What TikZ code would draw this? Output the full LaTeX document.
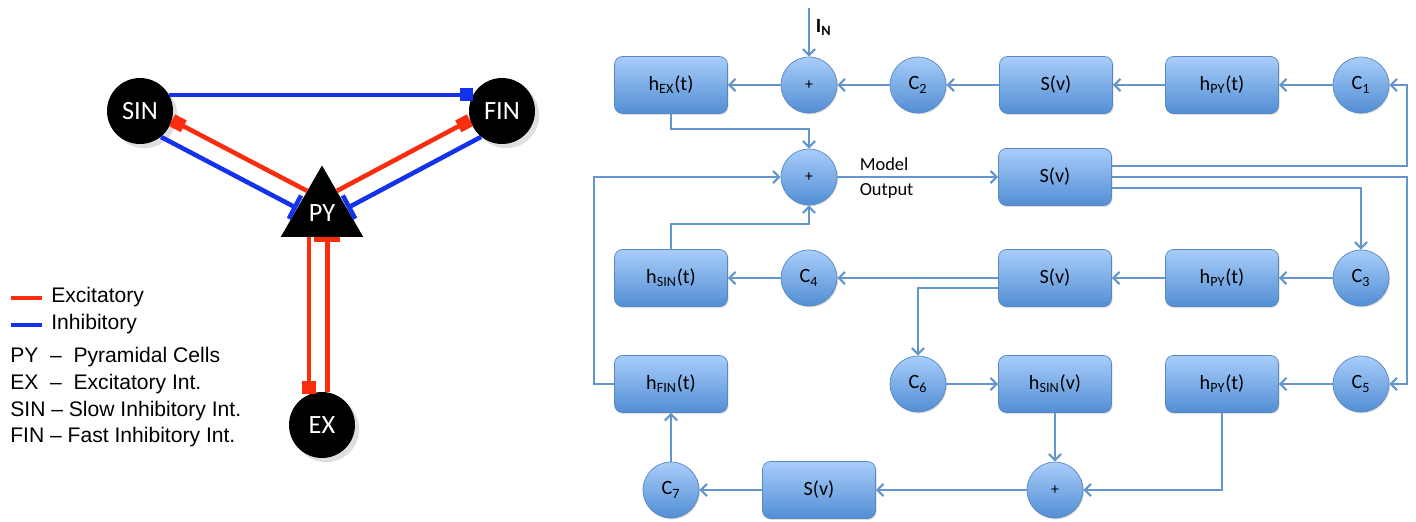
\documentclass[tikz,border=0pt]{standalone}
\usepackage{fontspec}
\setmainfont{Carlito}
\newfontfamily\legendfont{Liberation Sans}
\usepackage{xcolor}
\usepackage{tikz}
\usetikzlibrary{arrows.meta, shapes.geometric, calc, shadows}

\definecolor{excred}{RGB}{250,45,15}
\definecolor{inhblue}{RGB}{20,50,235}
\definecolor{flowline}{RGB}{100,150,205}
\definecolor{blktop}{RGB}{168,205,250}
\definecolor{blkbot}{RGB}{82,142,212}
\definecolor{blkedge}{RGB}{88,135,192}

\begin{document}
\begin{tikzpicture}[x=0.02cm, y=-0.02cm,
  cell/.style={circle, fill=black, minimum size=1.32cm, inner sep=0pt, text=white,
               font=\fontsize{15}{17}\selectfont, drop shadow={opacity=0.25}},
  pyr/.style={regular polygon, regular polygon sides=3, minimum size=1.9cm, inner sep=0pt,
              fill=black, text=white, font=\fontsize{15}{17}\selectfont},
  exc/.style={excred, line width=2.6pt},
  inh/.style={inhblue, line width=2.6pt},
  sq/.style={-{Square[length=7.5pt, width=7.5pt]}},
  bar/.style={-{Bar[width=15pt]}},
  blk/.style={rectangle, rounded corners=4.5pt, draw=blkedge, top color=blktop, bottom color=blkbot,
              minimum width=2.26cm, minimum height=1.14cm, font=\fontsize{11.5}{13}\selectfont,
              drop shadow={opacity=0.25, shadow xshift=0.6pt, shadow yshift=-0.8pt}},
  sumc/.style={circle, draw=blkedge, top color=blktop, bottom color=blkbot, minimum size=1.12cm,
               inner sep=0pt, font=\fontsize{11.5}{13}\selectfont,
               drop shadow={opacity=0.25, shadow xshift=0.6pt, shadow yshift=-0.8pt}},
  arr/.style={-{Straight Barb[length=3.5pt, width=7pt]}, flowline, line width=1.2pt},
  lbl/.style={font=\fontsize{10.5}{12}\selectfont, inner sep=3pt, text=black},
  leg/.style={font=\legendfont\fontsize{12}{14}\selectfont, anchor=west, inner sep=0pt}
]
\useasboundingbox (0,0) rectangle (1416,521);

% cell network
\node[cell] (sin) at (140,111) {SIN};
\node[cell] (fin) at (502,111) {FIN};
\node[pyr]  (py)  at (322,213) {PY};
\node[cell] (ex)  at (322,425) {EX};

\draw[inh, sq] (sin.29) -- (fin.151);
\draw[exc, sq] ($(py.corner 1)!0.36!(py.corner 2)$) -- (sin.-16);
\draw[inh, bar] (sin.-51) -- ($(py.corner 1)!0.6!(py.corner 2)$);
\draw[exc, sq] ($(py.corner 1)!0.36!(py.corner 3)$) -- (fin.196);
\draw[inh, bar] (fin.231) -- ($(py.corner 1)!0.6!(py.corner 3)$);
\draw[exc, sq] (py.south -| ex.113) -- (ex.113);
\draw[exc, bar] (ex.81) -- (py.south -| ex.81);

% legend
\draw[exc] (11,298) -- (42,298);
\draw[inh] (11,325) -- (42,325);
\node[leg] (lexc) at (51,297) {Excitatory};
\node[leg] (linh) at (51,324) {Inhibitory};
\node[leg] (lpy)  at (10,357) {PY\ \ –\ \ Pyramidal Cells};
\node[leg] (lex)  at (10,384) {EX\ \ –\ \ Excitatory Int.};
\node[leg] (lsin) at (10,411) {SIN – Slow Inhibitory Int.};
\node[leg] (lfin) at (10,437) {FIN – Fast Inhibitory Int.};

% block diagram
\node[blk]  (hex)   at (671,85)  {h\textsubscript{EX}(t)};
\node[sumc] (sum1)  at (809,85)  {\fontsize{9}{10}\selectfont +};
\node[sumc] (c2)    at (918,85)  {C\textsubscript{2}};
\node[blk]  (sv1)   at (1056,85) {S(v)};
\node[blk]  (hpy1)  at (1222,85) {h\textsubscript{PY}(t)};
\node[sumc] (c1)    at (1361,85) {C\textsubscript{1}};

\node[sumc] (sum2)  at (809,177)  {\fontsize{9}{10}\selectfont +};
\node[blk]  (sv2)   at (1055,177) {S(v)};

\node[blk]  (hsin)  at (671,278)  {h\textsubscript{SIN}(t)};
\node[sumc] (c4)    at (809,278)  {C\textsubscript{4}};
\node[blk]  (sv3)   at (1055,278) {S(v)};
\node[blk]  (hpy3)  at (1222,278) {h\textsubscript{PY}(t)};
\node[sumc] (c3)    at (1361,278) {C\textsubscript{3}};

\node[blk]  (hfin)  at (671,384)  {h\textsubscript{FIN}(t)};
\node[sumc] (c6)    at (918,384)  {C\textsubscript{6}};
\node[blk]  (hsinv) at (1055,384) {h\textsubscript{SIN}(v)};
\node[blk]  (hpy4)  at (1222,384) {h\textsubscript{PY}(t)};
\node[sumc] (c5)    at (1361,384) {C\textsubscript{5}};

\node[sumc] (c7)    at (671,490)  {C\textsubscript{7}};
\node[blk]  (sv5)   at (819,490)  {S(v)};
\node[sumc] (sum5)  at (1055,490) {\fontsize{9}{10}\selectfont +};

\coordinate (inN)  at (809,8);
\coordinate (busR) at (1407,177);

\draw[arr] (inN) -- node[right, pos=0.4, text=black, font=\bfseries\fontsize{11.5}{13}\selectfont]{I\textsubscript{N}} (sum1);
\draw[arr] (c1) -- (hpy1);
\draw[arr] (hpy1) -- (sv1);
\draw[arr] (sv1) -- (c2);
\draw[arr] (c2) -- (sum1);
\draw[arr] (sum1) -- (hex);
\draw[arr] (hex.south) -- ++(0,15) -| (sum2);
\draw[arr] (sum2) -- node[lbl, pos=0.1, anchor=south west]{Model}
                     node[lbl, pos=0.1, anchor=north west]{Output} (sv2);
\draw[arr] ($(sv2.east)+(0,-11)$) -| (busR |- c1) -- (c1);
\draw[arr] (sv2.east) -| (busR |- c5) -- (c5);
\draw[arr] ($(sv2.east)+(0,11)$) -| (c3);
\draw[arr] (c3) -- (hpy3);
\draw[arr] (hpy3) -- (sv3);
\draw[arr] (sv3) -- (c4);
\draw[arr] (c4) -- (hsin);
\draw[arr] (hsin.north) -- ++(0,-25) -| (sum2);
\draw[arr] ($(sv3.west)+(0,10)$) -| (c6);
\draw[arr] (c6) -- (hsinv);
\draw[arr] (c5) -- (hpy4);
\draw[arr] (hfin.west) -- ++(-20,0) |- (sum2);
\draw[arr] (hsinv) -- (sum5);
\draw[arr] (hpy4) |- (sum5);
\draw[arr] (sum5) -- (sv5);
\draw[arr] (sv5) -- (c7);
\draw[arr] (c7) -- (hfin);
\end{tikzpicture}
\end{document}
